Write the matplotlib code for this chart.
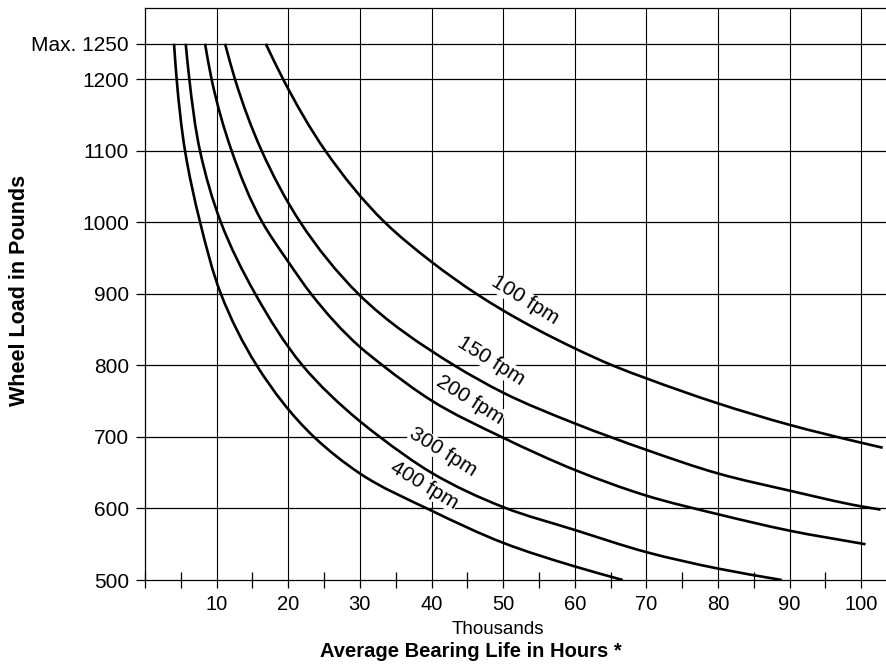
import matplotlib
matplotlib.use("Agg")
import matplotlib.pyplot as plt
import numpy as np
from matplotlib.ticker import MultipleLocator
from matplotlib.path import Path
from matplotlib.patches import PathPatch

plt.rcParams['font.family'] = ['Liberation Sans', 'DejaVu Sans']

# curvas de vida (miles de horas) vs carga por rueda (lb)
fpm100_x = [16.85, 19.3, 25.2, 33.5, 40, 46.3, 50, 60, 65.3, 70, 80, 90, 100, 103]
fpm100_y = [1250, 1200, 1100, 1000, 945, 900, 877, 824, 800, 782, 747, 717, 692, 685]

fpm150_x = [11.17, 12.57, 16.3, 21.7, 29.8, 43.2, 50, 60, 70, 80, 90, 100, 102.7]
fpm150_y = [1250, 1200, 1100, 1000, 900, 800, 762, 719, 682, 649, 625, 603, 598.5]

fpm200_x = [8.38, 9.3, 12.1, 16.4, 20, 23.2, 30, 33.2, 40, 50, 60, 70, 80, 90, 100.6]
fpm200_y = [1250, 1200, 1100, 1000, 945, 900, 826, 800, 751, 699, 654, 618, 592, 569, 550]

fpm300_x = [5.68, 6.19, 7.68, 10.6, 15.4, 22.0, 30, 32.8, 40, 50, 60, 70, 80, 88.9]
fpm300_y = [1250, 1200, 1100, 1000, 900, 800, 722, 700, 650, 602, 570, 539, 516, 500]

fpm400_x = [4.05, 4.42, 5.59, 7.7, 10.6, 15.6, 23.6, 30, 40, 50, 60, 66.7]
fpm400_y = [1250, 1200, 1100, 1000, 900, 800, 700, 649, 597, 552, 519, 500]

etiquetas = ['100 fpm', '150 fpm', '200 fpm', '300 fpm', '400 fpm']
etq_x = [53.0, 48.3, 45.4, 41.6, 39.0]
etq_y = [891, 806, 752, 679, 632]
etq_ang = [-32, -32, -32, -32, -31]

yticks = [500, 600, 700, 800, 900, 1000, 1100, 1200, 1250]
ylabels = ['500', '600', '700', '800', '900', '1000', '1100', '1200', 'Max. 1250']
xticks = [10, 20, 30, 40, 50, 60, 70, 80, 90, 100]


def curva_suave(ax, xs, ys):
    # bezier por los puntos leidos, en coordenadas de pantalla
    pts = ax.transData.transform(np.column_stack([xs, ys]))
    n = len(pts)
    h = np.sqrt(((pts[1:] - pts[:-1])**2).sum(axis=1))
    dl = (pts[1:] - pts[:-1]) / h[:, None]
    m = np.zeros_like(pts)
    m[0] = dl[0]
    m[-1] = dl[-1]
    for i in range(1, n - 1):
        m[i] = (h[i]*dl[i - 1] + h[i - 1]*dl[i]) / (h[i - 1] + h[i])
    verts = [pts[0]]
    codes = [Path.MOVETO]
    for i in range(n - 1):
        verts += [pts[i] + m[i]*h[i]/3, pts[i + 1] - m[i + 1]*h[i]/3, pts[i + 1]]
        codes += [Path.CURVE4]*3
    verts = ax.transData.inverted().transform(np.array(verts))
    ax.add_patch(PathPatch(Path(verts, codes), fc='none', ec='black', lw=1.9,
                           capstyle='butt', zorder=3))


fig = plt.figure(figsize=(8.87, 6.64), dpi=100)
ax = fig.add_axes([0.1635, 0.1265, 0.8365, 0.8615])
ax.set_xlim(0, 103.6)
ax.set_ylim(500, 1300)

curvas = [(fpm100_x, fpm100_y), (fpm150_x, fpm150_y), (fpm200_x, fpm200_y),
          (fpm300_x, fpm300_y), (fpm400_x, fpm400_y)]
for cx, cy in curvas:
    curva_suave(ax, cx, cy)

for t, x, y, a in zip(etiquetas, etq_x, etq_y, etq_ang):
    ax.text(x, y, t, rotation=a, ha='center', va='center', fontsize=15,
            rotation_mode='anchor', zorder=2,
            bbox=dict(facecolor='white', edgecolor='none', pad=0.1))

ax.set_xticks(xticks)
ax.set_xticklabels([str(v) for v in xticks], fontsize=14.5)
ax.xaxis.set_minor_locator(MultipleLocator(5))
ax.set_yticks(yticks)
ax.set_yticklabels(ylabels, fontsize=15)

ax.tick_params(axis='x', which='major', direction='out', length=6, width=0.9, pad=5)
ax.tick_params(axis='x', which='minor', direction='inout', length=11.5, width=0.9)
ax.tick_params(axis='y', which='major', direction='out', length=6.5, width=0.9, pad=5)

for v in xticks:
    ax.axvline(v, color='black', lw=0.8, zorder=1)
for v in yticks[1:]:
    ax.axhline(v, color='black', lw=0.9, zorder=1)

ax.spines['right'].set_visible(False)
for s in ['left', 'bottom', 'top']:
    ax.spines[s].set_linewidth(0.9)

fig.text(0.022, 0.563, 'Wheel Load in Pounds', rotation=90, ha='center', va='center',
         fontsize=15.5, fontweight='bold')
fig.text(0.561, 0.052, 'Thousands', ha='center', va='center', fontsize=13.5)
fig.text(0.531, 0.019, 'Average Bearing Life in Hours *', ha='center', va='center',
         fontsize=14.5, fontweight='bold')

fig.savefig('out.png', dpi=100)
